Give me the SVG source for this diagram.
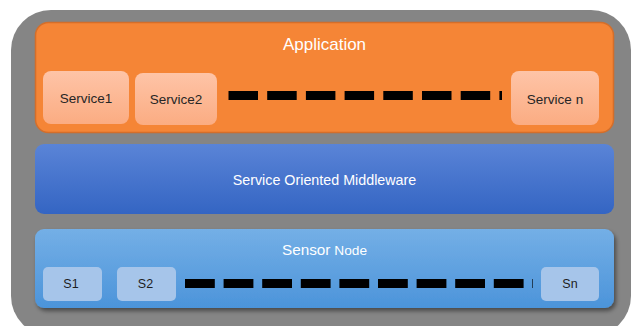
<svg xmlns="http://www.w3.org/2000/svg" width="632" height="326" viewBox="0 0 632 326">
<defs>
<linearGradient id="gSvc" x1="0" y1="0" x2="0" y2="1">
<stop offset="0" stop-color="#FEC4A7"/><stop offset="1" stop-color="#FBAC82"/>
</linearGradient>
<linearGradient id="gMid" x1="0" y1="0" x2="0" y2="1">
<stop offset="0" stop-color="#5A84D7"/><stop offset="1" stop-color="#3465C3"/>
</linearGradient>
<linearGradient id="gSen" x1="0" y1="0" x2="0" y2="1">
<stop offset="0" stop-color="#74AFE6"/><stop offset="1" stop-color="#4C94DA"/>
</linearGradient>
<filter id="sh" x="-5%" y="-10%" width="112%" height="130%">
<feGaussianBlur in="SourceAlpha" stdDeviation="2"/>
<feOffset dx="2" dy="3"/>
<feComponentTransfer><feFuncA type="linear" slope="0.45"/></feComponentTransfer>
<feMerge><feMergeNode/><feMergeNode in="SourceGraphic"/></feMerge>
</filter>
</defs>
<style>
.title{font-family:"Liberation Sans",Arial,sans-serif;fill:#FFFFFF;text-anchor:middle}
.lbl{font-family:"Liberation Sans",Arial,sans-serif;fill:#262626;text-anchor:middle;font-size:13.5px}
.slbl{font-family:"Liberation Sans",Arial,sans-serif;fill:#1E1E1E;text-anchor:middle;font-size:12.5px}
.svc{fill:url(#gSvc)}
.sbox{fill:#A6C5EA}
.dash{stroke:#000000;stroke-width:9;fill:none}
</style>
<rect id="background" x="11" y="10" width="620" height="326" rx="40" fill="#858585"/>

<g id="application">
<rect x="35.5" y="22.5" width="578" height="110" rx="13" fill="#F58536" stroke="#D46E2A" stroke-width="1.5"/>
<text class="title" x="324.5" y="50" font-size="17">Application</text>
</g>
<g id="service1">
<rect class="svc" x="43" y="71" width="86" height="53" rx="8"/>
<text class="lbl" x="86" y="103">Service1</text>
</g>
<g id="service2">
<rect class="svc" x="135" y="73" width="82" height="52" rx="8"/>
<text class="lbl" x="176" y="104">Service2</text>
</g>
<g id="servicen">
<rect class="svc" x="511" y="71" width="88" height="54" rx="8"/>
<text class="lbl" x="555" y="104">Service n</text>
</g>

<g id="middleware">
<rect x="35" y="144" width="579" height="70" rx="9" fill="url(#gMid)"/>
<text class="title" x="324.5" y="185" font-size="14.3">Service Oriented Middleware</text>
</g>

<g id="sensornode">
<rect x="35" y="229" width="579" height="79" rx="9" fill="url(#gSen)" filter="url(#sh)"/>
<text class="title" x="324.5" y="255"><tspan font-size="15.3">Sensor</tspan><tspan font-size="13.7"> Node</tspan></text>
</g>
<g id="s1">
<rect class="sbox" x="43" y="267" width="59" height="34" rx="5"/>
<text class="slbl" x="71" y="288">S1</text>
</g>
<g id="s2">
<rect class="sbox" x="117" y="267" width="59" height="34" rx="5"/>
<text class="slbl" x="145.5" y="288">S2</text>
</g>
<g id="sn">
<rect class="sbox" x="541" y="267" width="58" height="34" rx="5"/>
<text class="slbl" x="570" y="288">Sn</text>
</g>

<g id="connectors">
<line class="dash" x1="228.5" y1="95.5" x2="502" y2="95.5" stroke-dasharray="29.5 9.2"/>
<line class="dash" x1="185" y1="283.5" x2="533" y2="283.5" stroke-dasharray="29.8 8.8"/>
</g>
</svg>
